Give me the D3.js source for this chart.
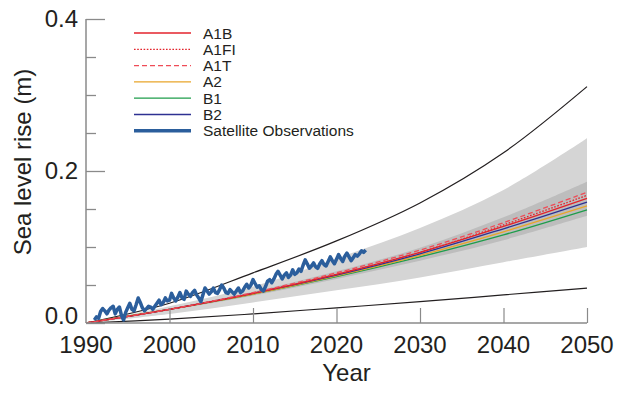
<!DOCTYPE html>
<html>
<head>
<meta charset="utf-8">
<script src="https://cdn.jsdelivr.net/npm/d3@7"></script>
<style>
    body { margin: 0; background: #fff; }
    #graphic text { font-family: "Liberation Sans", Arial, Helvetica, sans-serif; fill: #231f20; }
</style>
</head>
<body>
<div id="graphic"></div>
<script>
//projection years for the model curves
var years = [1990, 2000, 2010, 2020, 2030, 2040, 2050];

//envelope lines (black)
var upperBound = [0, 0.026, 0.066, 0.108, 0.158, 0.224, 0.311];
var lowerBound = [0, 0.005, 0.012, 0.020, 0.028, 0.037, 0.046];

//shaded ranges
var outerHigh = [0, 0.022, 0.048, 0.085, 0.125, 0.175, 0.243];
var outerLow  = [0, 0.012, 0.027, 0.043, 0.060, 0.080, 0.100];
var innerHigh = [0, 0.019, 0.041, 0.068, 0.099, 0.139, 0.186];
var innerLow  = [0, 0.017, 0.036, 0.058, 0.082, 0.109, 0.141];

//scenarios
var scenarioNames = ["A1B", "A1FI", "A1T", "A2", "B1", "B2"];
var A1B  = [0, 0.018, 0.039, 0.064, 0.093, 0.127, 0.164];
var A1FI = [0, 0.018, 0.039, 0.064, 0.093, 0.129, 0.168];
var A1T  = [0, 0.018, 0.040, 0.066, 0.096, 0.132, 0.172];
var A2   = [0, 0.018, 0.038, 0.062, 0.089, 0.120, 0.154];
var B1   = [0, 0.018, 0.038, 0.061, 0.087, 0.116, 0.149];
var B2   = [0, 0.018, 0.039, 0.063, 0.091, 0.124, 0.159];

//satellite observations, quarterly from 1991.0
var satStart = 1991;
var satStep = 0.25;
var satellite = [
    0.004, 0.008, 0.006, 0.015, 0.019, 0.016, 0.012, 0.017,
    0.020, 0.022, 0.012, 0.018, 0.021, 0.010, 0.004, 0.014,
    0.020, 0.026, 0.018, 0.016, 0.024, 0.033, 0.027, 0.020,
    0.016, 0.019, 0.022, 0.021, 0.018, 0.022, 0.026, 0.030,
    0.024, 0.027, 0.033, 0.029, 0.030, 0.039, 0.033, 0.029,
    0.034, 0.040, 0.033, 0.031, 0.042, 0.038, 0.035, 0.040,
    0.043, 0.037, 0.033, 0.028, 0.037, 0.046, 0.042, 0.038,
    0.041, 0.046, 0.040, 0.039, 0.044, 0.050, 0.046, 0.040,
    0.039, 0.044, 0.041, 0.038, 0.042, 0.046, 0.040, 0.042,
    0.047, 0.051, 0.046, 0.050, 0.057, 0.052, 0.047, 0.049,
    0.044, 0.042, 0.048, 0.055, 0.057, 0.053, 0.058, 0.064,
    0.068, 0.063, 0.058, 0.063, 0.066, 0.060, 0.063, 0.070,
    0.064, 0.066, 0.071, 0.068, 0.076, 0.083, 0.078, 0.072,
    0.075, 0.079, 0.074, 0.072, 0.078, 0.082, 0.077, 0.075,
    0.081, 0.087, 0.082, 0.078, 0.084, 0.090, 0.085, 0.081,
    0.088, 0.092, 0.087, 0.082, 0.086, 0.090, 0.088, 0.091,
    0.095, 0.093, 0.096
];

//axis ticks
var xTicks = [1990, 2000, 2010, 2020, 2030, 2040, 2050];
var yMajor = [0, 0.2, 0.4];
var yMinor = [0.05, 0.1, 0.15, 0.25, 0.3, 0.35];

var colors = {
    'A1B': '#e3232c', 'A1FI': '#e3232c', 'A1T': '#ef4c57',
    'A2': '#e8a52a', 'B1': '#1e9d4b', 'B2': '#2e3192',
    'sat': '#2b5e9c', 'light': '#d5d5d5', 'dark': '#bdbdbd', 'axis': '#8a8a8a'
};

render();

function render() {
    var width = 620, height = 393;
    var margin = {top: 19, left: 86, right: 33, bottom: 70};

    var svg = d3.select("#graphic").append("svg")
        .attr("width", width)
        .attr("height", height);

    var x = d3.scaleLinear().domain([1990, 2050]).range([margin.left, width - margin.right]);
    var y = d3.scaleLinear().domain([0, 0.4]).range([height - margin.bottom, margin.top]);

    var curve = d3.curveCatmullRom;

    function pts(vals) {
        return years.map(function(yr, i) { return [yr, vals[i]]; });
    }

    //bands
    var area = d3.area()
        .x(function(d) { return x(d[0]); })
        .y0(function(d) { return y(d[1]); })
        .y1(function(d) { return y(d[2]); })
        .curve(curve);

    function band(lo, hi) {
        return years.map(function(yr, i) { return [yr, lo[i], hi[i]]; });
    }

    svg.append("path").datum(band(outerLow, outerHigh))
        .attr("d", area).attr("fill", colors.light);
    svg.append("path").datum(band(innerLow, innerHigh))
        .attr("d", area).attr("fill", colors.dark);

    var line = d3.line()
        .x(function(d) { return x(d[0]); })
        .y(function(d) { return y(d[1]); })
        .curve(curve);

    //black envelope
    [upperBound, lowerBound].forEach(function(v) {
        svg.append("path").datum(pts(v))
            .attr("d", line)
            .attr("fill", "none")
            .attr("stroke", "#231f20")
            .attr("stroke-width", 1.2);
    });

    //scenario lines
    var scen = {"A1B": A1B, "A1FI": A1FI, "A1T": A1T, "A2": A2, "B1": B1, "B2": B2};
    var dash = {"A1FI": "1.6,1.6", "A1T": "5,3"};
    var drawOrder = ["B1", "A2", "B2", "A1B", "A1FI", "A1T"];

    drawOrder.forEach(function(k) {
        svg.append("path").datum(pts(scen[k]))
            .attr("d", line)
            .attr("fill", "none")
            .attr("stroke", colors[k])
            .attr("stroke-width", 1.3)
            .attr("stroke-dasharray", dash[k] || null);
    });

    //satellite
    var satPts = satellite.map(function(v, i) { return [satStart + i * satStep, v]; });
    svg.append("path").datum(satPts)
        .attr("d", d3.line()
            .x(function(d) { return x(d[0]); })
            .y(function(d) { return y(d[1]); }))
        .attr("fill", "none")
        .attr("stroke", colors.sat)
        .attr("stroke-width", 3.5)
        .attr("stroke-linejoin", "round");

    //axes
    var xAxis = svg.append("g")
        .attr("transform", "translate(0," + y(0) + ")")
        .call(d3.axisTop(x).tickValues(xTicks.slice(1)).tickSize(15).tickFormat(""));
    xAxis.select(".domain").remove();
    xAxis.selectAll("line").attr("stroke", colors.axis).attr("stroke-width", 1.2);

    svg.append("line")
        .attr("x1", x(1990)).attr("x2", x(2050))
        .attr("y1", y(0)).attr("y2", y(0))
        .attr("stroke", colors.axis).attr("stroke-width", 1.5);

    svg.append("line")
        .attr("x1", x(1990)).attr("x2", x(1990))
        .attr("y1", y(0.4)).attr("y2", y(0))
        .attr("stroke", colors.axis).attr("stroke-width", 1.5);

    var yAxisMaj = svg.append("g")
        .attr("transform", "translate(" + x(1990) + ",0)")
        .call(d3.axisRight(y).tickValues(yMajor).tickSize(19).tickFormat(""));
    yAxisMaj.select(".domain").remove();
    yAxisMaj.selectAll("line").attr("stroke", colors.axis).attr("stroke-width", 1.3);

    var yAxisMin = svg.append("g")
        .attr("transform", "translate(" + x(1990) + ",0)")
        .call(d3.axisRight(y).tickValues(yMinor).tickSize(10).tickFormat(""));
    yAxisMin.select(".domain").remove();
    yAxisMin.selectAll("line").attr("stroke", colors.axis).attr("stroke-width", 1.3);

    //tick labels
    svg.selectAll(".ylab")
        .data(yMajor)
        .enter().append("text")
            .attr("class", "ylab")
            .attr("x", x(1990) - 8)
            .attr("y", function(d) { return y(d) + (d === 0 ? -7 : 0); })
            .attr("dy", "0.35em")
            .attr("text-anchor", "end")
            .style("font-size", "24px")
            .text(d3.format(".1f"));

    svg.selectAll(".xlab")
        .data(xTicks)
        .enter().append("text")
            .attr("class", "xlab")
            .attr("x", function(d) { return x(d); })
            .attr("y", y(0) + 30)
            .attr("text-anchor", "middle")
            .style("font-size", "24px")
            .text(function(d) { return d; });

    svg.append("text")
        .attr("x", (x(1990) + x(2050)) / 2 + 10)
        .attr("y", y(0) + 58)
        .attr("text-anchor", "middle")
        .style("font-size", "24px")
        .text("Year");

    svg.append("text")
        .attr("transform", "translate(31," + 162 + ") rotate(-90)")
        .attr("text-anchor", "middle")
        .style("font-size", "24px")
        .text("Sea level rise (m)");

    //legend
    var legendItems = scenarioNames.concat(["Satellite Observations"]);
    var spacing = 16.3;

    var legend = svg.append("g")
        .attr("class", "legend")
        .attr("transform", "translate(134,33)");

    legend.selectAll("line")
        .data(legendItems)
        .enter().append("line")
            .attr("x1", 0).attr("x2", 57)
            .attr("y1", function(d, i) { return i * spacing; })
            .attr("y2", function(d, i) { return i * spacing; })
            .attr("stroke", function(d) { return colors[d] || colors.sat; })
            .attr("stroke-width", function(d) { return colors[d] ? 1.3 : 3.4; })
            .attr("stroke-dasharray", function(d) { return dash[d] || null; });

    legend.selectAll("text")
        .data(legendItems)
        .enter().append("text")
            .attr("x", 69)
            .attr("y", function(d, i) { return i * spacing; })
            .attr("dy", "0.36em")
            .style("font-size", "15.5px")
            .text(function(d) { return d; });
}
</script>
</body>
</html>
